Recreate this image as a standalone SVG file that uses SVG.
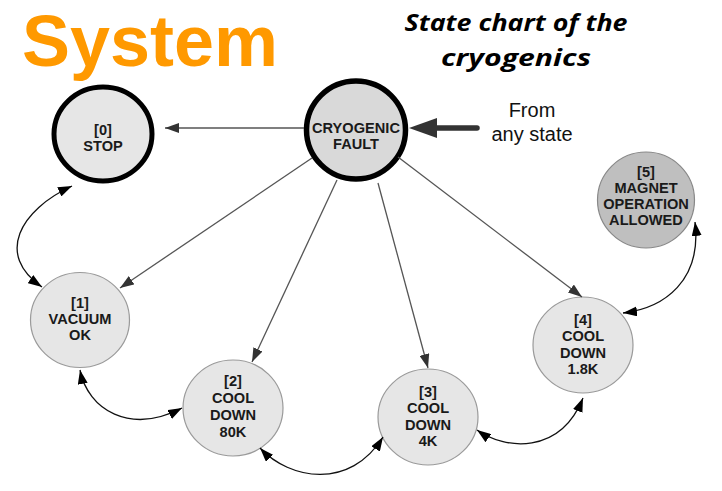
<svg xmlns="http://www.w3.org/2000/svg" width="722" height="491" viewBox="0 0 722 491">
  <style>
    .node { fill: #e6e6e6; stroke: #9a9a9a; stroke-width: 1.2; }
    .heavy { stroke: #000; stroke-width: 5; }
    .lbl { font-family: "Liberation Sans", Arial, sans-serif; font-weight: bold; font-size: 14.6px; fill: #1a1a1a; text-anchor: middle; }
    .thin { fill: none; stroke: #555; stroke-width: 1.3; marker-end: url(#ag); }
    .curve { fill: none; stroke: #111; stroke-width: 1.3; marker-start: url(#ab); marker-end: url(#ab); }
    .title { font-family: "Liberation Sans", Arial, sans-serif; font-weight: bold; font-size: 72px; fill: #FF9900; }
    .sub { font-family: "Open Sans", "Liberation Sans", sans-serif; font-weight: bold; font-style: italic; font-size: 23px; fill: #000; text-anchor: middle; }
    .note { font-family: "Liberation Sans", Arial, sans-serif; font-size: 20px; fill: #111; text-anchor: middle; }
  </style>
  <defs>
    <marker id="ag" viewBox="0 0 14 10" refX="14" refY="5" markerUnits="userSpaceOnUse" markerWidth="14" markerHeight="10" orient="auto-start-reverse">
      <path d="M0,0 L14,5 L0,10 z" fill="#333"/>
    </marker>
    <marker id="ab" viewBox="0 0 14 10" refX="14" refY="5" markerUnits="userSpaceOnUse" markerWidth="14" markerHeight="10" orient="auto-start-reverse">
      <path d="M0,0 L14,5 L0,10 z" fill="#000"/>
    </marker>
    <marker id="athick" viewBox="0 0 28 20" refX="1" refY="10" markerUnits="userSpaceOnUse" markerWidth="28" markerHeight="20" orient="auto">
      <path d="M0,0 L28,10 L0,20 z" fill="#333"/>
    </marker>
  </defs>

  <text class="title" x="22" y="65.5" textLength="256" lengthAdjust="spacingAndGlyphs">System</text>
  <text class="sub" x="516" y="31" textLength="223" lengthAdjust="spacingAndGlyphs">State chart of the</text>
  <text class="sub" x="516" y="66" textLength="150" lengthAdjust="spacingAndGlyphs">cryogenics</text>

  <g id="note">
    <text class="note" x="532" y="117">From</text>
    <text class="note" x="532" y="141">any state</text>
  </g>

  <g id="n0">
    <ellipse class="node heavy" cx="103" cy="134" rx="49" ry="47"/>
    <text class="lbl" x="103" y="135">[0]</text>
    <text class="lbl" x="103" y="151">STOP</text>
  </g>
  <g id="fault">
    <ellipse class="node heavy" style="fill:#d9d9d9;stroke-width:5.5" cx="356" cy="130" rx="49.5" ry="49"/>
    <text class="lbl" x="356" y="133">CRYOGENIC</text>
    <text class="lbl" x="356" y="149">FAULT</text>
  </g>
  <g id="n1">
    <ellipse class="node" cx="80" cy="320" rx="49.5" ry="47.5"/>
    <text class="lbl" x="80" y="308">[1]</text>
    <text class="lbl" x="80" y="324">VACUUM</text>
    <text class="lbl" x="80" y="340">OK</text>
  </g>
  <g id="n2">
    <ellipse class="node" cx="233" cy="408" rx="50" ry="48"/>
    <text class="lbl" x="233" y="386">[2]</text>
    <text class="lbl" x="233" y="403">COOL</text>
    <text class="lbl" x="233" y="420">DOWN</text>
    <text class="lbl" x="233" y="437">80K</text>
  </g>
  <g id="n3">
    <ellipse class="node" cx="428" cy="417" rx="50" ry="48"/>
    <text class="lbl" x="428" y="397">[3]</text>
    <text class="lbl" x="428" y="413">COOL</text>
    <text class="lbl" x="428" y="430">DOWN</text>
    <text class="lbl" x="428" y="446">4K</text>
  </g>
  <g id="n4">
    <ellipse class="node" cx="583" cy="345" rx="50" ry="48"/>
    <text class="lbl" x="583" y="325">[4]</text>
    <text class="lbl" x="583" y="341">COOL</text>
    <text class="lbl" x="583" y="358">DOWN</text>
    <text class="lbl" x="583" y="374">1.8K</text>
  </g>
  <g id="n5">
    <ellipse class="node" style="fill:#bfbfbf;stroke:#888" cx="646" cy="200" rx="48.5" ry="48"/>
    <text class="lbl" x="646" y="177">[5]</text>
    <text class="lbl" x="646" y="193">MAGNET</text>
    <text class="lbl" x="646" y="209">OPERATION</text>
    <text class="lbl" x="646" y="225">ALLOWED</text>
  </g>

  <g id="connectors">
    <path d="M477,128 L436,128" fill="none" stroke="#333" stroke-width="5.5" stroke-linecap="round" marker-end="url(#athick)"/>
    <path class="thin" d="M304,128 L165,128"/>
    <path class="thin" d="M312,158 L120,288"/>
    <path class="thin" d="M337,180 L252,362"/>
    <path class="thin" d="M378,183 L428,368"/>
    <path class="thin" d="M398,157 L582,297"/>
    <path class="curve" d="M72,186 C20,210 -5,255 42,287"/>
    <path class="curve" d="M80,370 C88,410 130,435 182,408"/>
    <path class="curve" d="M260,448 C290,480 350,490 383,437"/>
    <path class="curve" d="M477,430 C505,450 560,455 583,398"/>
    <path class="curve" d="M623,313 C665,308 702,280 695,222"/>
  </g>
</svg>
